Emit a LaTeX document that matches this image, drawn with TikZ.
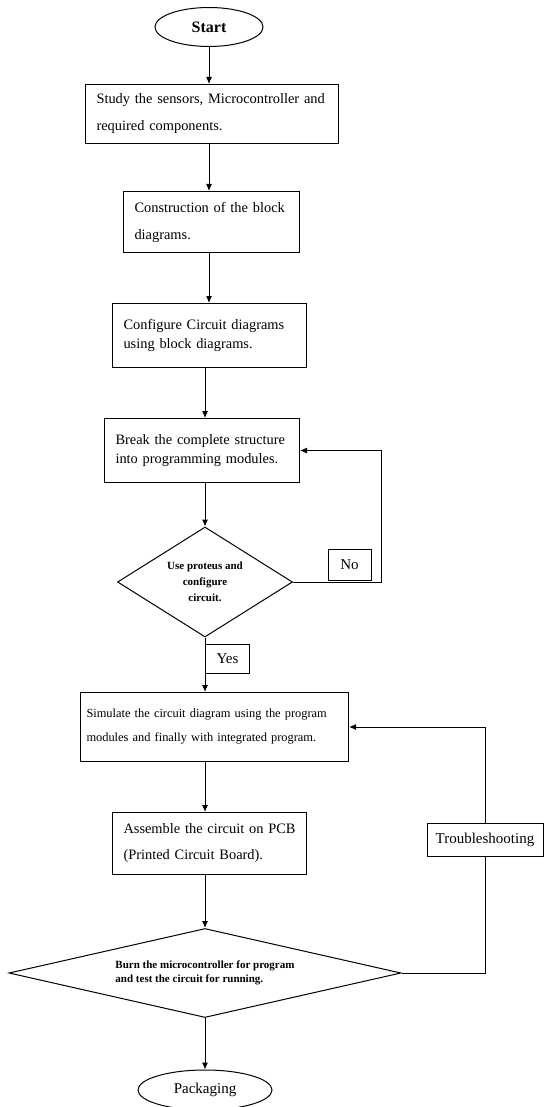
\documentclass[tikz,border=0pt]{standalone}
\usepackage{fontspec}
\setmainfont{Liberation Serif}
\usetikzlibrary{arrows.meta,shapes.geometric}

\begin{document}
\begin{tikzpicture}[x=1pt,y=-1pt,line width=1pt,>={Latex[length=7pt,width=6pt]},
  box/.style={draw,rectangle,anchor=north west,align=left,inner xsep=11pt,inner ysep=0pt,font=\fontsize{14.4}{17}\selectfont},
  term/.style={draw,ellipse,inner sep=0pt},
  test/.style={draw,diamond,inner sep=0pt,align=center,font=\bfseries\fontsize{11}{16}\selectfont},
  lbl/.style={draw,rectangle,inner sep=0pt,font=\fontsize{15}{17}\selectfont}]
\useasboundingbox (0,0) rectangle (544,1107);
\node[term,minimum width=108pt,minimum height=39pt,font=\bfseries\fontsize{16}{18}\selectfont] (start) at (209,27) {Start};
\node[box,text width=231pt,minimum height=59pt] (study) at (85,84)
  {Study the sensors, Microcontroller and\\[10pt]required components.};
\node[box,text width=154pt,minimum height=61pt] (block) at (123,191)
  {Construction of the block\\[10pt]diagrams.};
\node[box,text width=172pt,minimum height=64pt] (circ) at (112,303)
  {Configure Circuit diagrams\\[2pt]using block diagrams.};
\node[box,text width=173pt,minimum height=64pt] (brk) at (104,418)
  {Break the complete structure\\[2pt]into programming modules.};
\node[test,minimum width=175pt,minimum height=110pt,aspect=1.6] (proteus) at (205,582)
  {Use proteus and\\configure\\circuit.};
\node[lbl,minimum width=43pt,minimum height=31pt] (no) at (349.5,564.5) {No};
\node[lbl,anchor=north west,minimum width=44pt,minimum height=29pt] (yes) at (205,644) {Yes};
\node[box,inner xsep=6pt,text width=256pt,minimum height=69pt,font=\fontsize{12.4}{14}\selectfont] (sim) at (80,692)
  {Simulate the circuit diagram using the program\\[10pt]modules and finally with integrated program.};
\node[box,text width=172pt,minimum height=62pt] (pcb) at (112,812)
  {Assemble the circuit on PCB\\[9pt](Printed Circuit Board).};
\node[lbl,minimum width=116pt,minimum height=33pt] (trb) at (485,839.5) {Troubleshooting};
\node[test,minimum width=392pt,minimum height=89pt,aspect=4.4,align=left,font=\bfseries\fontsize{11}{14}\selectfont] (burn) at (205,973)
  {Burn the microcontroller for program\\and test the circuit for running.};
\node[term,minimum width=134pt,minimum height=40pt,font=\fontsize{15}{18}\selectfont] (pack) at (205,1090) {Packaging};
\draw[->] (start.south) -- (start.south |- study.north);
\draw[->] (study.south -| start) -- (block.north -| start);
\draw[->] (block.south -| start) -- (circ.north -| start);
\draw[->] (circ.south -| proteus) -- (brk.north -| proteus);
\draw[->] (brk.south -| proteus) -- (proteus.north);
\draw[->] (proteus.east) -- ++(88,0) |- (brk.east);
\draw[->] (proteus.south) -- (proteus.south |- sim.north);
\draw[->] (sim.south -| proteus) -- (pcb.north -| proteus);
\draw[->] (pcb.south -| burn) -- (burn.north);
\draw (burn.east) -| (trb.south);
\draw[->] (trb.north) |- (sim.east);
\draw[->] (burn.south) -- (pack.north);
\end{tikzpicture}
\end{document}
